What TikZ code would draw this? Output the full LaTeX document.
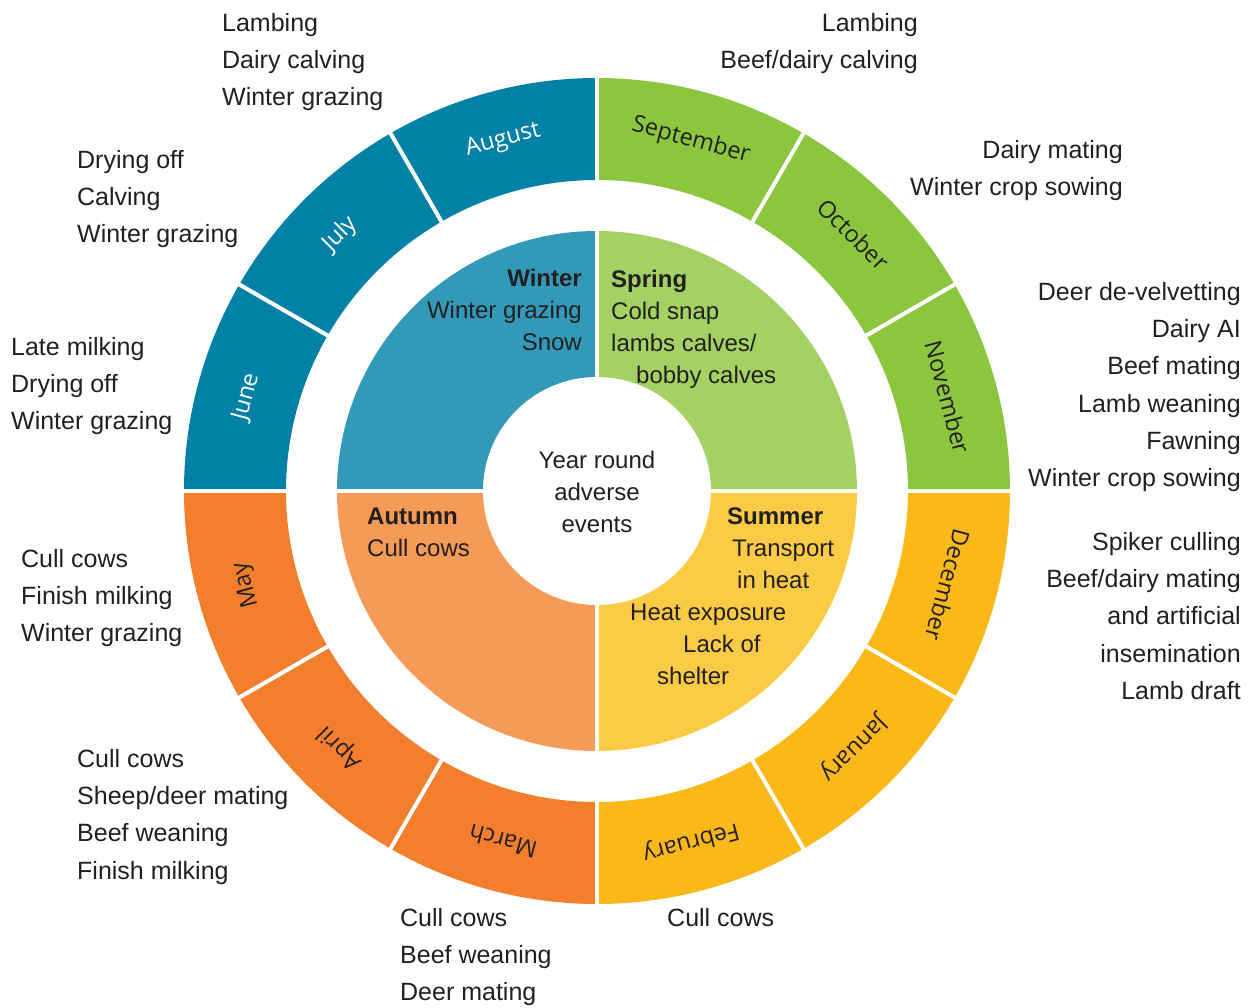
\documentclass[tikz,border=0pt]{standalone}
\usepackage{fontspec}
\setmainfont{Liberation Sans}
\newfontfamily\monthfont{Open Sans}
\usepackage{tikz}

\definecolor{ink}{HTML}{231F20}
\definecolor{winterdark}{HTML}{0081A5}
\definecolor{winterlight}{HTML}{3399B8}
\definecolor{springdark}{HTML}{8CC63F}
\definecolor{springlight}{HTML}{A3D164}
\definecolor{summerdark}{HTML}{FBB919}
\definecolor{summerlight}{HTML}{FCCB45}
\definecolor{autumndark}{HTML}{F37F2E}
\definecolor{autumnlight}{HTML}{F69A57}

\tikzset{
	event/.style={font=\fontsize{25}{37.3}\selectfont,text=ink,inner sep=0pt},
	season/.style={font=\fontsize{24}{32}\selectfont,text=ink,inner sep=0pt},
	month/.style={font=\monthfont\fontsize{23.5}{28}\selectfont,inner sep=0pt},
	gap/.style={white,line width=4pt}
}

\begin{document}
\begin{tikzpicture}[x=1pt,y=1pt]
	\useasboundingbox (-597,-516) rectangle (661,491);
	% inner seasons
	\foreach \a/\col in {0/springlight,90/winterlight,180/autumnlight,270/summerlight}
		\fill[\col] (0,0) -- (\a:260) arc[start angle=\a,end angle=\a+90,radius=260] -- cycle;
	% outer ring of months
	\foreach \mid/\col in {75/springdark,45/springdark,15/springdark,-15/summerdark,-45/summerdark,-75/summerdark,
			-105/autumndark,-135/autumndark,-165/autumndark,165/winterdark,135/winterdark,105/winterdark}
		\fill[\col] (\mid+15:413) arc[start angle=\mid+15,end angle=\mid-15,radius=413]
			-- (\mid-15:311) arc[start angle=\mid-15,end angle=\mid+15,radius=311] -- cycle;
	\foreach \a in {0,30,...,330}
		\draw[gap] (\a:308) -- (\a:416);
	\foreach \a in {0,90,180,270}
		\draw[gap] (0,0) -- (\a:263);
	\fill[white] (0,0) circle[radius=114];
	% month names
	\foreach \mid/\mon/\txt [count=\i] in {75/September/ink,45/October/ink,15/November/ink,-15/December/ink,
			-45/January/ink,-75/February/ink,-105/March/ink,-135/April/ink,-165/May/ink,
			165/June/white,135/July/white,105/August/white}
		\node(m\i) [month,text=\txt,rotate=\mid-90] at (\mid:363) {\mon};
	% centre
	\node(centre) [season,align=center] at (0,-1) {Year round\\adverse\\events};
	% seasons
	\node(winter) [season,align=right,anchor=north east] at (-15,222) {\textbf{Winter}\\Winter grazing\\Snow};
	\node(spring) [season,align=left,anchor=north west] at (14,221) {\textbf{Spring}\\Cold snap\\lambs calves/\\\hspace*{25pt}bobby calves};
	\node(autumn) [season,align=left,anchor=north west] at (-230,-17) {\textbf{Autumn}\\Cull cows};
	\node(summer) [season,align=left,anchor=north west] at (33,-17) {\hspace*{97pt}\textbf{Summer}\\\hspace*{102pt}Transport\\\hspace*{107pt}in heat\\Heat exposure\\\hspace*{53pt}Lack of\\\hspace*{27pt}shelter};
	% events by month
	\node(sep) [event,align=right,anchor=north east] at (321,478) {Lambing\\Beef/dairy calving};
	\node(oct) [event,align=right,anchor=north east] at (526,351) {Dairy mating\\Winter crop sowing};
	\node(nov) [event,align=right,anchor=north east] at (644,209) {Deer de-velvetting\\Dairy AI\\Beef mating\\Lamb weaning\\Fawning\\Winter crop sowing};
	\node(dec) [event,align=right,anchor=north east] at (644,-41) {Spiker culling\\Beef/dairy mating\\and artificial\\insemination\\Lamb draft};
	\node(feb) [event,align=left,anchor=north west] at (70,-417) {Cull cows};
	\node(mar) [event,align=left,anchor=north west] at (-197,-417) {Cull cows\\Beef weaning\\Deer mating};
	\node(apr) [event,align=left,anchor=north west] at (-520,-258) {Cull cows\\Sheep/deer mating\\Beef weaning\\Finish milking};
	\node(may) [event,align=left,anchor=north west] at (-576,-58) {Cull cows\\Finish milking\\Winter grazing};
	\node(jun) [event,align=left,anchor=north west] at (-586,154) {Late milking\\Drying off\\Winter grazing};
	\node(jul) [event,align=left,anchor=north west] at (-520,341) {Drying off\\Calving\\Winter grazing};
	\node(aug) [event,align=left,anchor=north west] at (-375,478) {Lambing\\Dairy calving\\Winter grazing};
\end{tikzpicture}
\end{document}
